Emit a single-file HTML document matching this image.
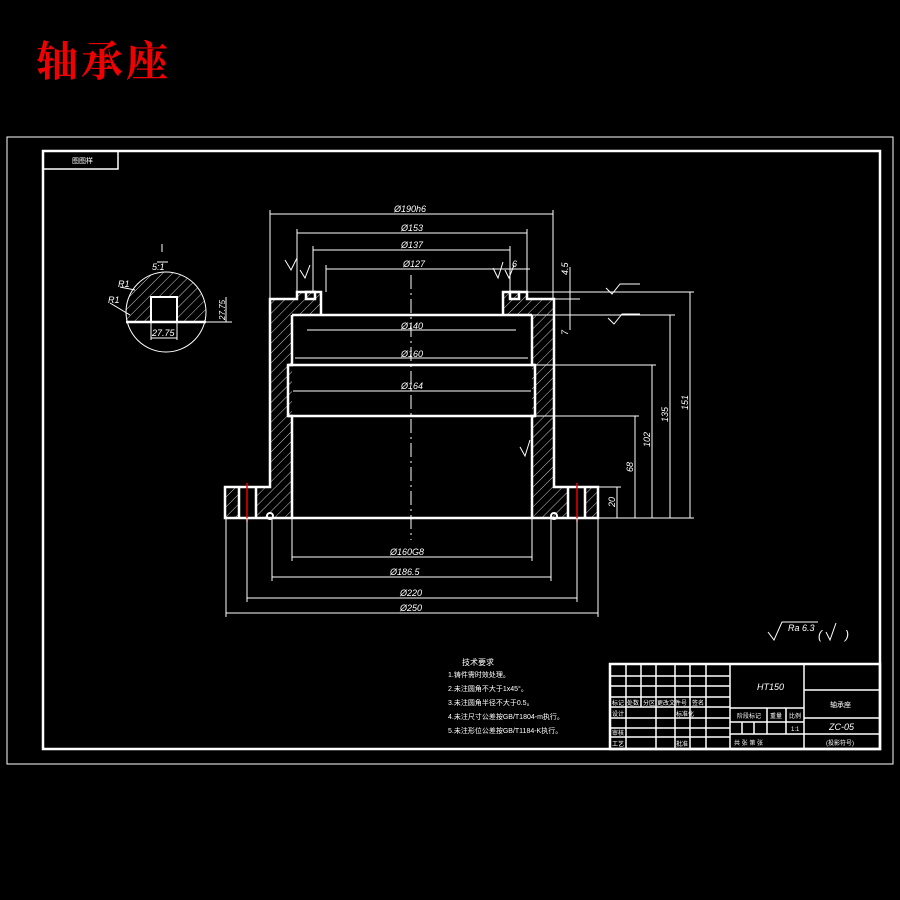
<!DOCTYPE html>
<html><head><meta charset="utf-8"><style>
html,body{margin:0;padding:0;background:#000;width:900px;height:900px;overflow:hidden}
svg{display:block}
text{font-family:"Liberation Sans","Noto Sans CJK SC",sans-serif;fill:#fff}
</style></head><body>
<svg width="900" height="900" viewBox="0 0 900 900" xmlns="http://www.w3.org/2000/svg">
<defs>
<pattern id="h" patternUnits="userSpaceOnUse" width="7" height="7" patternTransform="rotate(45)">
<line x1="0" y1="0" x2="0" y2="7" stroke="#fff" stroke-width="0.8"/></pattern>
</defs>
<rect width="900" height="900" fill="#000"/>
<text x="36" y="76" font-size="42" font-weight="bold" style="fill:#f00000;font-family:'Noto Serif CJK SC','Noto Sans CJK SC',serif" letter-spacing="3">轴承座</text>
<!-- frames -->
<rect x="7" y="137" width="886" height="627" fill="none" stroke="#fff" stroke-width="1"/>
<rect x="43" y="151" width="837" height="598" fill="none" stroke="#fff" stroke-width="2.5"/>
<rect x="43" y="151" width="75" height="18" fill="none" stroke="#fff" stroke-width="1.5"/>
<text x="72" y="163" font-size="7">图图样</text>

<!-- hatch -->
<g fill="url(#h)">
<polygon points="270,299 297,299 297,292 321,292 321,315 292,315 292,518 270,518"/>
<polygon points="225,487 270,487 270,518 225,518"/>
<polygon points="527,299 554,299 554,518 532,518 532,315 503,315 503,292 527,292"/>
<polygon points="554,487 598,487 598,518 554,518"/>
</g>
<rect x="239" y="488" width="17" height="29" fill="#000"/>
<rect x="568" y="488" width="17" height="29" fill="#000"/>
<g stroke="#fff" stroke-width="2.5" fill="none">
<polyline points="321,315 321,292 297,292 297,299 270,299 270,487 225,487 225,518 598,518 598,487 554,487 554,299 527,299 527,292 503,292 503,315"/>
<line x1="292" y1="315" x2="532" y2="315"/>
<polyline points="292,315 292,365 288,365 288,416 292,416 292,518"/>
<polyline points="532,315 532,365 535,365 535,416 532,416 532,518"/>
<line x1="288" y1="365" x2="535" y2="365"/>
<line x1="288" y1="416" x2="535" y2="416"/>
<line x1="239" y1="488" x2="239" y2="518"/><line x1="256" y1="488" x2="256" y2="518"/>
<line x1="568" y1="488" x2="568" y2="518"/><line x1="585" y1="488" x2="585" y2="518"/>
<rect x="306" y="292" width="9" height="7"/><rect x="510" y="292" width="9" height="7"/>
</g>
<circle cx="270" cy="516" r="3" fill="none" stroke="#fff" stroke-width="2"/>
<circle cx="554" cy="516" r="3" fill="none" stroke="#fff" stroke-width="2"/>
<line x1="247" y1="483" x2="247" y2="522" stroke="#e00" stroke-width="1.5"/>
<line x1="577" y1="483" x2="577" y2="522" stroke="#e00" stroke-width="1.5"/>
<line x1="411" y1="275" x2="411" y2="540" stroke="#fff" stroke-width="1" stroke-dasharray="14,4,2,4"/>

<!-- dimensions -->
<g stroke="#fff" stroke-width="1" fill="none">
<line x1="270" y1="214" x2="553" y2="214"/><line x1="270" y1="210" x2="270" y2="299"/><line x1="553" y1="210" x2="553" y2="299"/>
<line x1="297" y1="233" x2="527" y2="233"/><line x1="297" y1="229" x2="297" y2="292"/><line x1="527" y1="229" x2="527" y2="292"/>
<line x1="313" y1="250" x2="510" y2="250"/><line x1="313" y1="246" x2="313" y2="292"/><line x1="510" y1="246" x2="510" y2="292"/>
<line x1="326" y1="269" x2="530" y2="269"/><line x1="326" y1="265" x2="326" y2="292"/>
<line x1="307" y1="330" x2="516" y2="330"/>
<line x1="295" y1="358" x2="528" y2="358"/>
<line x1="293" y1="391" x2="531" y2="391"/>
<line x1="292" y1="557" x2="532" y2="557"/><line x1="292" y1="518" x2="292" y2="561"/><line x1="532" y1="518" x2="532" y2="561"/>
<line x1="272" y1="577" x2="551" y2="577"/><line x1="272" y1="518" x2="272" y2="581"/><line x1="551" y1="518" x2="551" y2="581"/>
<line x1="247" y1="598" x2="577" y2="598"/><line x1="247" y1="518" x2="247" y2="602"/><line x1="577" y1="518" x2="577" y2="602"/>
<line x1="226" y1="613" x2="598" y2="613"/><line x1="226" y1="518" x2="226" y2="617"/><line x1="598" y1="518" x2="598" y2="617"/>
<line x1="598" y1="518" x2="694" y2="518"/>
<line x1="527" y1="292" x2="694" y2="292"/>
<line x1="532" y1="315" x2="675" y2="315"/>
<line x1="535" y1="365" x2="656" y2="365"/>
<line x1="535" y1="416" x2="639" y2="416"/>
<line x1="598" y1="487" x2="621" y2="487"/>
<line x1="617" y1="487" x2="617" y2="518"/>
<line x1="635" y1="416" x2="635" y2="518"/>
<line x1="652" y1="365" x2="652" y2="518"/>
<line x1="670" y1="315" x2="670" y2="518"/>
<line x1="690" y1="292" x2="690" y2="518"/>
<line x1="570" y1="267" x2="570" y2="330"/>
<line x1="554" y1="299" x2="580" y2="299"/>
<polyline points="285,260 291,270 297,258"/><polyline points="300,270 305,278 310,265"/>
<polyline points="493,268 498,278 503,262"/><polyline points="505,270 509,278 514,265"/>
<polyline points="520,447 525,456 530,440"/>
<polyline points="606,288 612,294 620,284 640,284"/>
<polyline points="608,318 614,324 622,314 640,314"/>
<polyline points="768,632 774,640 782,622 818,622"/>
<polyline points="826,632 830,640 836,623"/>
<circle cx="166" cy="312" r="40"/>
<line x1="151" y1="322" x2="232" y2="322"/>
<line x1="226" y1="297" x2="226" y2="322"/>
<line x1="151" y1="338" x2="177" y2="338"/><line x1="151" y1="322" x2="151" y2="340"/><line x1="177" y1="322" x2="177" y2="340"/>
<line x1="120" y1="287" x2="135" y2="290"/><line x1="110" y1="303" x2="130" y2="315"/>
<line x1="157" y1="262" x2="168" y2="262"/><line x1="162" y1="244" x2="162" y2="252"/>
</g>
<path d="M126,312 A40,40 0 0 1 206,312 L206,322 L177,322 L177,297 L151,297 L151,322 L126,322 Z" fill="url(#h)"/>
<rect x="151" y="297" width="26" height="25" fill="#000" stroke="#fff" stroke-width="2"/>
<line x1="126" y1="322" x2="206" y2="322" stroke="#fff" stroke-width="2.5"/>
<g font-size="9" font-style="italic">
<text x="152" y="270">5:1</text><text x="118" y="287">R1</text><text x="108" y="303">R1</text>
<text x="152" y="336">27.75</text>
<text x="225" y="320" transform="rotate(-90 225 320)" font-size="8">27.75</text>
<text x="394" y="212">Ø190h6</text><text x="401" y="231">Ø153</text><text x="401" y="248">Ø137</text><text x="403" y="267">Ø127</text>
<text x="401" y="329">Ø140</text><text x="401" y="357">Ø160</text><text x="401" y="389">Ø164</text>
<text x="390" y="555">Ø160G8</text><text x="390" y="575">Ø186.5</text><text x="400" y="596">Ø220</text><text x="400" y="611">Ø250</text>
<text x="512" y="267">6</text>
<text x="568" y="275" transform="rotate(-90 568 275)">4.5</text>
<text x="568" y="335" transform="rotate(-90 568 335)">7</text>
<text x="615" y="507" transform="rotate(-90 615 507)">20</text>
<text x="633" y="472" transform="rotate(-90 633 472)">68</text>
<text x="650" y="447" transform="rotate(-90 650 447)">102</text>
<text x="668" y="422" transform="rotate(-90 668 422)">135</text>
<text x="688" y="410" transform="rotate(-90 688 410)">151</text>
<text x="788" y="631">Ra 6.3</text><text x="818" y="639" font-size="12">(</text><text x="845" y="639" font-size="12">)</text>
</g>
<g font-size="7">
<text x="462" y="665" font-size="8">技术要求</text>
<text x="448" y="677">1.铸件需时效处理。</text>
<text x="448" y="691">2.未注圆角不大于1x45°。</text>
<text x="448" y="705">3.未注圆角半径不大于0.5。</text>
<text x="448" y="719">4.未注尺寸公差按GB/T1804-m执行。</text>
<text x="448" y="733">5.未注形位公差按GB/T1184-K执行。</text>
</g>
<g stroke="#fff" stroke-width="1.5" fill="none">
<rect x="610" y="664" width="270" height="85" stroke-width="2.5"/>
<line x1="730" y1="664" x2="730" y2="749"/>
<line x1="804" y1="664" x2="804" y2="749"/>
<line x1="804" y1="690" x2="880" y2="690"/><line x1="804" y1="718" x2="880" y2="718"/><line x1="804" y1="734" x2="880" y2="734"/>
<line x1="610" y1="676" x2="730" y2="676"/><line x1="610" y1="686" x2="730" y2="686"/><line x1="610" y1="697" x2="730" y2="697"/>
<line x1="610" y1="707" x2="730" y2="707"/><line x1="610" y1="718" x2="730" y2="718"/><line x1="610" y1="728" x2="730" y2="728"/><line x1="610" y1="737" x2="730" y2="737"/>
<line x1="626" y1="664" x2="626" y2="749"/><line x1="641" y1="664" x2="641" y2="707"/><line x1="656" y1="664" x2="656" y2="749"/>
<line x1="675" y1="664" x2="675" y2="749"/><line x1="690" y1="664" x2="690" y2="749"/><line x1="706" y1="664" x2="706" y2="749"/>
<line x1="730" y1="708" x2="804" y2="708"/><line x1="730" y1="722" x2="804" y2="722"/><line x1="730" y1="734" x2="804" y2="734"/>
<line x1="767" y1="708" x2="767" y2="734"/><line x1="786" y1="708" x2="786" y2="734"/>
<line x1="742" y1="722" x2="742" y2="734"/><line x1="754" y1="722" x2="754" y2="734"/>
</g>
<g font-size="6">
<text x="612" y="705">标记</text><text x="627" y="705">处数</text><text x="643" y="705">分区</text><text x="657" y="705">更改文件号</text><text x="692" y="705">签名</text>
<text x="612" y="716">设计</text><text x="676" y="716">标准化</text><text x="612" y="735">审核</text><text x="612" y="746">工艺</text><text x="676" y="746">批准</text>
<text x="737" y="718">阶段标记</text><text x="770" y="718">重量</text><text x="789" y="718">比例</text><text x="791" y="731">1:1</text>
<text x="734" y="745">共 张 第 张</text><text x="830" y="707" font-size="7">轴承座</text><text x="826" y="745">(投影符号)</text>
</g>
<text x="757" y="690" font-size="9" font-style="italic">HT150</text>
<text x="829" y="730" font-size="9" font-style="italic">ZC-05</text>
</svg>
</body></html>
